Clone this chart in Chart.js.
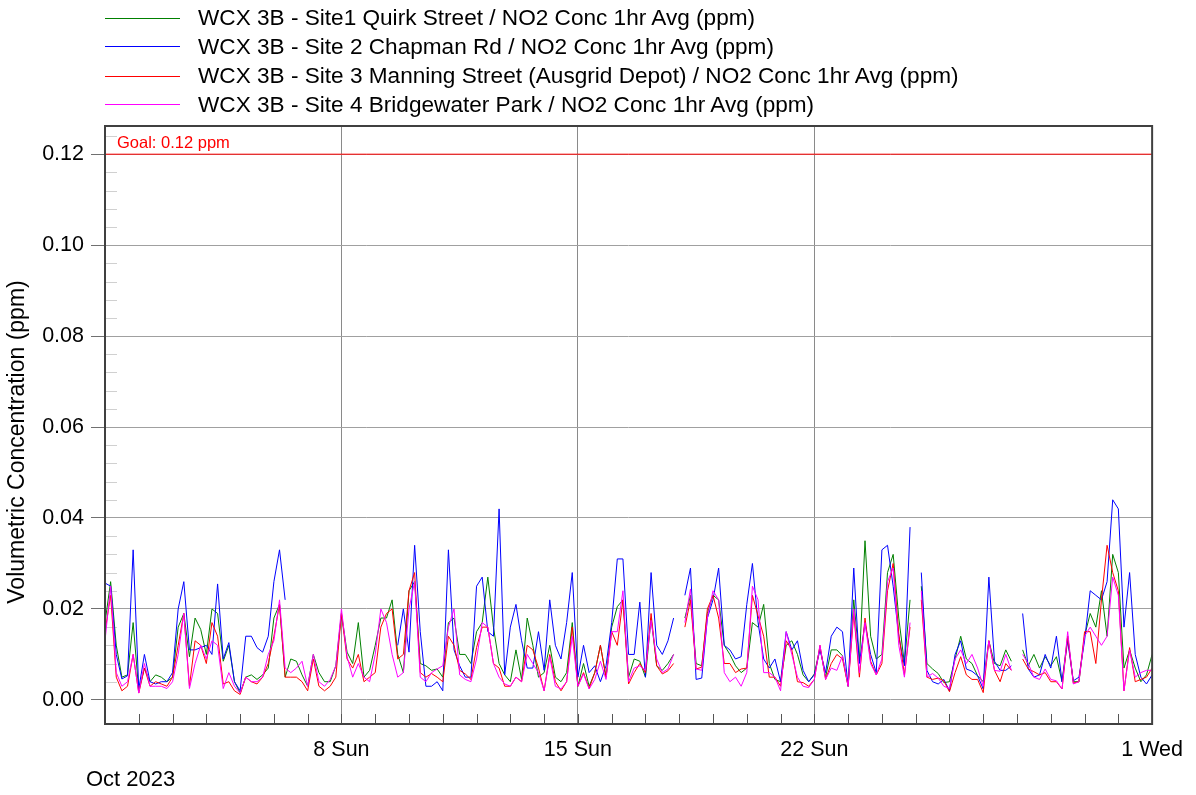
<!DOCTYPE html>
<html>
<head>
<meta charset="utf-8">
<script src="https://cdn.jsdelivr.net/npm/chart.js@4.4.0/dist/chart.umd.min.js"></script>
<style>
  body { margin: 0; background: #fff; font-family: "Liberation Sans", Arial, sans-serif; }
  #wrap { position: relative; width: 1196px; height: 795px; }
  #legend { position: absolute; left: 105px; top: 3px; }
  .row { position: relative; height: 29px; font-size: 22.6px; line-height: 29px; color: #000; white-space: nowrap; padding-left: 93px; }
  .row .sw { position: absolute; left: 0; width: 75px; height: 1px; }
  #month { position: absolute; left: 86px; top: 766px; font-size: 22px; }
</style>
</head>
<body>
<div id="wrap">
  <canvas id="chart" width="1196" height="795"></canvas>
  <div id="legend"></div>
  <div id="month">Oct 2023</div>
</div>
<script>
// NO2 1hr averages, read every 4 hours from 1 Oct 2023 00:00 (one line per day)
const site1 = [
  0.017, 0.026, 0.012, 0.005, 0.0055, 0.017,
  0.002, 0.007, 0.004, 0.0055, 0.005, 0.004,
  0.005, 0.016, 0.019, 0.0095, 0.018, 0.0155,
  0.010, 0.020, 0.019, 0.0085, 0.012, 0.004,
  0.0015, 0.005, 0.0055, 0.0045, 0.0055, 0.007,
  0.018, 0.021, 0.005, 0.009, 0.0085, 0.0055,
  0.003, 0.010, 0.006, 0.004, 0.004, 0.0075,
  0.019, 0.0105, 0.008, 0.017, 0.005, 0.0065,
  0.012, 0.018, 0.018, 0.022, 0.010, 0.006,
  0.024, 0.026, 0.008, 0.0075, 0.0065, 0.0068,
  0.005, 0.017, 0.018, 0.010, 0.010, 0.008,
  0.015, 0.017, 0.027, 0.016, 0.008, 0.0055,
  0.004, 0.011, 0.0045, 0.018, 0.012, 0.005,
  0.006, 0.012, 0.005, 0.004, 0.006, 0.017,
  0.003, 0.008, 0.003, 0.006, 0.012, 0.005,
  0.016, 0.0205, 0.022, 0.005, 0.009, 0.0085,
  0.005, 0.018, 0.0075, 0.0065, 0.008, 0.010,
  null, 0.018, 0.023, 0.008, 0.0075, 0.019,
  0.023, 0.022, 0.012, 0.010, 0.0075, 0.006,
  0.007, 0.017, 0.016, 0.021, 0.008, 0.0045,
  0.004, 0.012, 0.013, 0.010, 0.0055, 0.004,
  0.0057, 0.0115, 0.005, 0.011, 0.011, 0.0097,
  0.003, 0.022, 0.0085, 0.035, 0.014, 0.009,
  0.010, 0.028, 0.032, 0.018, 0.008, 0.022,
  null, 0.025, 0.008, 0.0068, 0.0058, 0.0038,
  0.004, 0.009, 0.014, 0.009, 0.008, 0.0053,
  0.004, 0.013, 0.008, 0.0075, 0.011, 0.0085,
  null, 0.011, 0.0075, 0.010, 0.007, 0.0095,
  0.0075, 0.0095, 0.004, 0.014, 0.004, 0.004,
  0.014, 0.019, 0.016, 0.024, 0.014, 0.032,
  0.028, 0.007, 0.011, 0.007, 0.004, 0.0055,
  0.010
];
const site2 = [
  0.0257, 0.025, 0.010, 0.0046, 0.0053, 0.033,
  0.0024, 0.010, 0.004, 0.0035, 0.004, 0.004,
  0.006, 0.020, 0.026, 0.011, 0.011, 0.0115,
  0.012, 0.010, 0.0255, 0.009, 0.0126, 0.004,
  0.002, 0.014, 0.014, 0.0115, 0.0105, 0.014,
  0.026, 0.033, 0.022, null, null, null,
  null, null, null, null, null, null,
  null, null, null, null, null, null,
  null, null, null, null, 0.012, 0.020,
  0.0105, 0.034, 0.015, 0.003, 0.003, 0.004,
  0.002, 0.033, 0.011, 0.0075, 0.005, 0.005,
  0.025, 0.027, 0.015, 0.014, 0.042, 0.0055,
  0.016, 0.021, 0.013, 0.007, 0.007, 0.015,
  0.0065, 0.022, 0.012, 0.009, 0.017, 0.028,
  0.005, 0.012, 0.006, 0.0075, 0.004, 0.0075,
  0.017, 0.031, 0.031, 0.010, 0.010, 0.0215,
  0.005, 0.028, 0.012, 0.010, 0.013, 0.018,
  null, 0.023, 0.029, 0.0045, 0.0048, 0.018,
  0.022, 0.029, 0.012, 0.011, 0.009, 0.0095,
  0.021, 0.030, 0.017, 0.009, 0.007, 0.009,
  0.004, 0.015, 0.011, 0.013, 0.0065, 0.004,
  0.0055, 0.011, 0.006, 0.014, 0.016, 0.015,
  0.003, 0.029, 0.008, 0.017, 0.010, 0.006,
  0.033, 0.034, 0.025, 0.014, 0.0075, 0.038,
  null, 0.028, 0.0065, 0.004, 0.0035, 0.0045,
  0.002, 0.010, 0.013, 0.0068, 0.0063, 0.0053,
  0.0024, 0.027, 0.0085, 0.0065, 0.0065, 0.0075,
  null, 0.019, 0.0068, 0.005, 0.0055, 0.010,
  0.007, 0.014, 0.004, 0.013, 0.0042, 0.005,
  0.013, 0.024, 0.023, 0.022, 0.026, 0.044,
  0.042, 0.016, 0.028, 0.010, 0.005, 0.0035,
  0.0055
];
const site3 = [
  0.015, 0.023, 0.005, 0.002, 0.003, 0.010,
  0.0015, 0.007, 0.003, 0.004, 0.0035, 0.003,
  0.005, 0.012, 0.019, 0.003, 0.013, 0.012,
  0.008, 0.017, 0.014, 0.0035, 0.004, 0.002,
  0.0012, 0.005, 0.004, 0.0035, 0.005, 0.008,
  0.014, 0.021, 0.005, 0.005, 0.005, 0.004,
  0.002, 0.009, 0.003, 0.002, 0.003, 0.005,
  0.019, 0.009, 0.007, 0.010, 0.004, 0.005,
  0.006, 0.016, 0.019, 0.020, 0.009, 0.010,
  0.024, 0.028, 0.006, 0.005, 0.0058, 0.005,
  0.004, 0.014, 0.012, 0.0065, 0.0057, 0.0045,
  0.0115, 0.016, 0.016, 0.008, 0.007, 0.003,
  0.003, 0.005, 0.004, 0.012, 0.011, 0.007,
  0.002, 0.010, 0.004, 0.002, 0.004, 0.016,
  0.003, 0.006, 0.0025, 0.006, 0.012, 0.005,
  0.015, 0.012, 0.022, 0.0035, 0.006, 0.008,
  0.006, 0.019, 0.0075, 0.0057, 0.0064, 0.008,
  null, 0.016, 0.022, 0.0068, 0.0072, 0.020,
  0.023, 0.018, 0.008, 0.008, 0.006, 0.0068,
  0.007, 0.023, 0.0185, 0.014, 0.005, 0.005,
  0.003, 0.013, 0.011, 0.004, 0.0038, 0.003,
  0.0045, 0.012, 0.0045, 0.008, 0.010, 0.009,
  0.003, 0.019, 0.005, 0.018, 0.0085, 0.0055,
  0.008, 0.024, 0.030, 0.0145, 0.0055, 0.016,
  null, 0.022, 0.005, 0.0045, 0.0048, 0.0042,
  0.0018, 0.006, 0.0095, 0.0055, 0.0045, 0.0045,
  0.0016, 0.013, 0.0065, 0.004, 0.008, 0.0065,
  null, 0.009, 0.0068, 0.0062, 0.0055, 0.006,
  0.004, 0.004, 0.0024, 0.014, 0.0037, 0.004,
  0.015, 0.015, 0.008, 0.022, 0.034, 0.028,
  0.024, 0.002, 0.0115, 0.004, 0.0045, 0.005,
  0.007
];
const site4 = [
  0.013, 0.025, 0.006, 0.003, 0.004, 0.010,
  0.0015, 0.008, 0.003, 0.003, 0.003, 0.0025,
  0.004, 0.010, 0.019, 0.0025, 0.008, 0.012,
  0.009, 0.013, 0.012, 0.0025, 0.006, 0.003,
  0.0015, 0.005, 0.004, 0.004, 0.005, 0.010,
  0.013, 0.022, 0.007, 0.006, 0.007, 0.0085,
  0.003, 0.010, 0.004, 0.003, 0.0045, 0.0075,
  0.020, 0.0095, 0.005, 0.008, 0.005, 0.004,
  0.010, 0.020, 0.017, 0.010, 0.005, 0.006,
  0.020, 0.026, 0.005, 0.004, 0.006, 0.0068,
  0.0075, 0.016, 0.020, 0.0055, 0.0045, 0.004,
  0.009, 0.017, 0.016, 0.008, 0.005, 0.0035,
  0.003, 0.005, 0.004, 0.010, 0.008, 0.006,
  0.002, 0.0095, 0.003, 0.0024, 0.004, 0.014,
  0.003, 0.0057, 0.0024, 0.0045, 0.0085, 0.0045,
  0.015, 0.015, 0.024, 0.004, 0.007, 0.0075,
  0.0065, 0.0175, 0.009, 0.006, 0.0068, 0.010,
  null, 0.017, 0.0244, 0.0068, 0.0065, 0.018,
  0.024, 0.022, 0.006, 0.004, 0.005, 0.003,
  0.006, 0.025, 0.022, 0.006, 0.006, 0.005,
  0.002, 0.015, 0.010, 0.005, 0.003, 0.0027,
  0.0045, 0.012, 0.0045, 0.007, 0.0065, 0.0097,
  0.003, 0.020, 0.006, 0.017, 0.008, 0.0055,
  0.009, 0.026, 0.029, 0.012, 0.005, 0.017,
  null, 0.024, 0.005, 0.0058, 0.0048, 0.003,
  0.0025, 0.009, 0.011, 0.008, 0.010, 0.007,
  0.003, 0.013, 0.0065, 0.0063, 0.010, 0.0065,
  null, 0.010, 0.008, 0.005, 0.0045, 0.0068,
  0.0045, 0.0042, 0.0024, 0.015, 0.0035, 0.004,
  0.014, 0.016, 0.014, 0.012, 0.014, 0.027,
  0.023, 0.002, 0.011, 0.005, 0.006, 0.0065,
  0.0065
];

const seriesNames = [
  "WCX 3B - Site1 Quirk Street / NO2 Conc 1hr Avg (ppm)",
  "WCX 3B - Site 2 Chapman Rd / NO2 Conc 1hr Avg (ppm)",
  "WCX 3B - Site 3 Manning Street (Ausgrid Depot) / NO2 Conc 1hr Avg (ppm)",
  "WCX 3B - Site 4 Bridgewater Park / NO2 Conc 1hr Avg (ppm)"
];
const seriesColors = ["#008000", "#0000ff", "#ff0000", "#ff00ff"];
const yTicks = [0, 0.02, 0.04, 0.06, 0.08, 0.10, 0.12];
const xLabelHours = [168, 336, 504, 744];
const xLabels = ["8 Sun", "15 Sun", "22 Sun", "1 Wed"];
const yTitle = "Volumetric Concentration (ppm)";
const goal = 0.12;
const goalLabel = "Goal: 0.12 ppm";

const stepHours = 4;
const hours = site1.map((_, i) => i * stepHours);
const dayTicks = [];
for (let d = 0; d <= 31; d++) dayTicks.push(d * 24);
const fontFamily = '"Liberation Sans", Arial, sans-serif';

// legend (swatch kept on an even pixel row so thin colours survive)
const legend = document.getElementById("legend");
seriesNames.forEach((name, i) => {
  const row = document.createElement("div");
  row.className = "row";
  const top = i % 2 === 0 ? 15 : 14;
  row.innerHTML = `<span class="sw" style="top:${top}px;background-color:${seriesColors[i]}"></span>${name}`;
  legend.appendChild(row);
});

const decor = {
  id: "decor",
  beforeDatasetsDraw(chart) {
    const { ctx, chartArea: a, scales: { y } } = chart;
    ctx.save();
    ctx.strokeStyle = "#d0d0d0";
    ctx.lineWidth = 1;
    for (let i = 1; i <= 31; i++) {
      if (i % 5 === 0) continue;
      const py = Math.round(y.getPixelForValue(i * 0.004)) + 0.5;
      ctx.beginPath();
      ctx.moveTo(a.left, py);
      ctx.lineTo(a.left + 12, py);
      ctx.stroke();
    }
    ctx.restore();
  },
  afterDatasetsDraw(chart) {
    const { ctx, chartArea: a, scales: { x, y } } = chart;
    ctx.save();
    ctx.strokeStyle = "#555";
    ctx.lineWidth = 1;
    dayTicks.forEach(h => {
      const px = Math.round(x.getPixelForValue(h)) + 0.5;
      ctx.beginPath();
      ctx.moveTo(px, a.bottom);
      ctx.lineTo(px, a.bottom - 10);
      ctx.stroke();
    });
    ctx.strokeStyle = "#404040";
    ctx.lineWidth = 2;
    ctx.strokeRect(a.left, a.top, a.right - a.left, a.bottom - a.top);
    ctx.fillStyle = "#ff0000";
    ctx.font = "16.5px " + fontFamily;
    ctx.textBaseline = "bottom";
    ctx.fillText(goalLabel, a.left + 12, y.getPixelForValue(goal) - 2);
    // y axis title, centred a little below the plot middle as in the source
    ctx.fillStyle = "#000";
    ctx.font = "23px " + fontFamily;
    ctx.textAlign = "center";
    ctx.textBaseline = "middle";
    ctx.translate(18, (a.top + a.bottom) / 2 + 17);
    ctx.rotate(-Math.PI / 2);
    ctx.fillText(yTitle, 0, 0);
    ctx.restore();
  }
};

const datasets = [site1, site2, site3, site4].map((vals, i) => ({
  label: seriesNames[i],
  data: vals.map((v, k) => ({ x: hours[k], y: v })),
  borderColor: seriesColors[i],
  backgroundColor: seriesColors[i],
  borderWidth: 1,
  pointRadius: 0,
  spanGaps: false,
  order: 4 - i
}));
datasets.push({
  label: "Goal",
  data: [{ x: 0, y: goal }, { x: 744, y: goal }],
  borderColor: "#ff0000",
  borderWidth: 1,
  pointRadius: 0,
  order: 6
});

new Chart(document.getElementById("chart"), {
  type: "line",
  data: { datasets },
  options: {
    responsive: false,
    animation: false,
    layout: { padding: { left: 0, top: 126, right: 40, bottom: 0 } },
    plugins: { legend: { display: false }, tooltip: { enabled: false } },
    scales: {
      x: {
        type: "linear",
        min: 0,
        max: 744,
        afterBuildTicks: ax => { ax.ticks = dayTicks.map(v => ({ value: v })); },
        afterFit: ax => { ax.height = 71; },
        border: { display: false },
        grid: {
          drawTicks: false,
          color: c => (c.tick && [168, 336, 504].includes(c.tick.value)) ? "#8a8a8a" : "rgba(0,0,0,0)"
        },
        ticks: {
          autoSkip: false,
          maxRotation: 0,
          padding: 13,
          color: "#000",
          font: { size: 21.5, family: fontFamily },
          callback: v => {
            const k = xLabelHours.indexOf(v);
            return k >= 0 ? xLabels[k] : "";
          }
        }
      },
      y: {
        min: -0.0053,
        max: 0.1262,
        afterBuildTicks: ax => { ax.ticks = yTicks.map(v => ({ value: v })); },
        afterFit: ax => { ax.width = 105; },
        border: { display: false },
        grid: { color: "#a0a0a0", tickLength: 14, tickColor: "#707070" },
        ticks: {
          padding: 7,
          color: "#000",
          font: { size: 21.5, family: fontFamily },
          callback: v => v.toFixed(2)
        }
      }
    }
  },
  plugins: [decor]
});
</script>
</body>
</html>
